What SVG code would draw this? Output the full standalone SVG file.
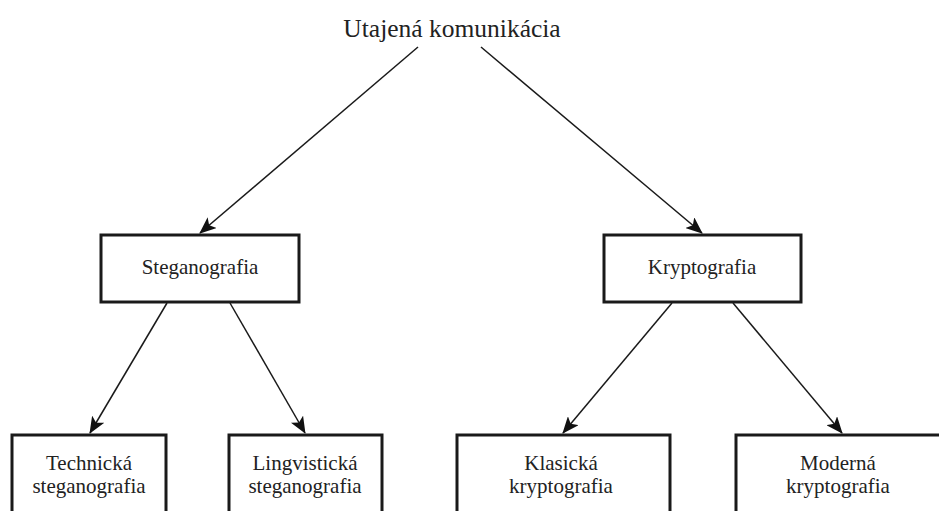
<svg xmlns="http://www.w3.org/2000/svg" width="939" height="511" viewBox="0 0 939 511">
<defs>
<marker id="arr" markerWidth="17" markerHeight="14" refX="16" refY="7" orient="auto" markerUnits="userSpaceOnUse">
<path d="M0,0 L17,7 L0,14 L4,7 Z" fill="#111"/>
</marker>
<style>
.box{fill:#fff;stroke:#1a1a1a;stroke-width:3}
.t{font-family:"Liberation Serif","Times New Roman",serif;fill:#222;text-anchor:middle}
.lbl{font-size:21px}
.con{stroke:#1a1a1a;stroke-width:1.5;fill:none;marker-end:url(#arr)}
</style>
</defs>
<rect width="939" height="511" fill="#fff"/>
<g id="root"><text class="t" x="452" y="37" font-size="25.5">Utajená komunikácia</text></g>
<g id="connectors">
<line class="con" x1="418" y1="47" x2="200" y2="233"/>
<line class="con" x1="481" y1="47" x2="702" y2="233"/>
<line class="con" x1="167" y1="303" x2="90" y2="433"/>
<line class="con" x1="230" y1="303" x2="305" y2="433"/>
<line class="con" x1="672" y1="303" x2="563" y2="433"/>
<line class="con" x1="733" y1="303" x2="842" y2="433"/>
</g>
<g id="steganografia"><rect class="box" x="101" y="235" width="198" height="67"/><text class="t lbl" x="200" y="274">Steganografia</text></g>
<g id="kryptografia"><rect class="box" x="604" y="235" width="197" height="67"/><text class="t lbl" x="702" y="274">Kryptografia</text></g>
<g id="technicka"><rect class="box" x="12" y="435" width="154" height="100"/><text class="t lbl" x="89" y="470">Technická</text><text class="t lbl" x="89" y="493">steganografia</text></g>
<g id="lingvisticka"><rect class="box" x="229" y="435" width="153" height="100"/><text class="t lbl" x="305" y="470">Lingvistická</text><text class="t lbl" x="305" y="493">steganografia</text></g>
<g id="klasicka"><rect class="box" x="457" y="435" width="213" height="100"/><text class="t lbl" x="561" y="470">Klasická</text><text class="t lbl" x="561" y="493">kryptografia</text></g>
<g id="moderna"><rect class="box" x="736" y="435" width="220" height="100"/><text class="t lbl" x="838" y="470">Moderná</text><text class="t lbl" x="838" y="493">kryptografia</text></g>
</svg>
